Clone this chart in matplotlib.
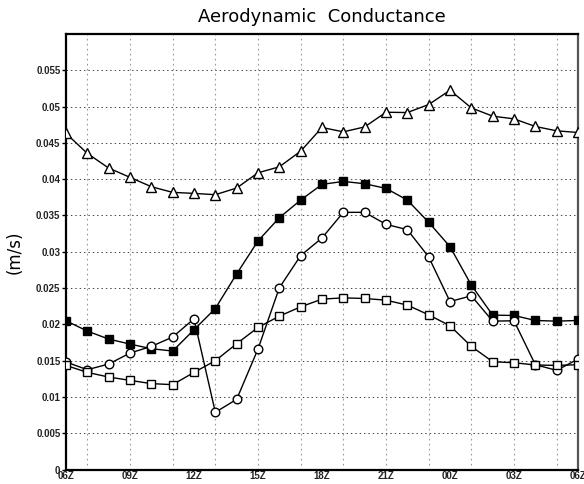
import matplotlib
matplotlib.use("Agg")
import matplotlib.pyplot as plt
from matplotlib.ticker import FuncFormatter

# hourly values, 06Z to 06Z next day
hours = list(range(25))
tick_labels = ["06Z", "09Z", "12Z", "15Z", "18Z", "21Z", "00Z", "03Z", "06Z"]

tri = [0.0463, 0.04355, 0.04153, 0.04025, 0.03896, 0.03818, 0.03804, 0.03786,
       0.03878, 0.04088, 0.0417, 0.04386, 0.04712, 0.04652, 0.0472, 0.04922,
       0.04918, 0.05028, 0.05225, 0.04982, 0.04868, 0.04831, 0.04726, 0.04666,
       0.04643]
sq_filled = [0.02049, 0.01907, 0.01797, 0.01728, 0.01664, 0.01632, 0.01925,
             0.02218, 0.02695, 0.03149, 0.03469, 0.03712, 0.03928, 0.03969,
             0.03937, 0.03873, 0.03712, 0.03406, 0.0307, 0.0254, 0.02127,
             0.02122, 0.02053, 0.02044, 0.02053]
circ = [0.01481, 0.01375, 0.01453, 0.01604, 0.01696, 0.01825, 0.02076, 0.00788,
        0.00967, 0.0166, 0.02503, 0.02947, 0.0319, 0.03543, 0.03543, 0.03378,
        0.03304, 0.02929, 0.02314, 0.02393, 0.02044, 0.02049, 0.01444, 0.01366,
        0.01522]
sq_open = [0.01434, 0.01338, 0.01274, 0.01228, 0.01183, 0.01169, 0.01338,
           0.01499, 0.01733, 0.01957, 0.02113, 0.02241, 0.02347, 0.02365,
           0.02356, 0.02333, 0.02265, 0.02131, 0.0198, 0.01696, 0.01485,
           0.01471, 0.0144, 0.01434, 0.01444]

fig = plt.figure(figsize=(5.84, 4.84), dpi=100)
ax = fig.add_axes([66 / 584, 14.5 / 484, 512 / 584, 435.5 / 484])

lw = 1.0
ax.plot(hours, tri, color="black", lw=lw, marker="^", ms=7, mfc="white",
        mec="black", mew=1.0, zorder=3)
ax.plot(hours, sq_filled, color="black", lw=lw, marker="s", ms=5.6, mfc="black",
        mec="black", mew=1.0, zorder=3)
ax.plot(hours, circ, color="black", lw=lw, marker="o", ms=6.2, mfc="white",
        mec="black", mew=1.0, zorder=3)
ax.plot(hours, sq_open, color="black", lw=lw, marker="s", ms=5.8, mfc="white",
        mec="black", mew=1.0, zorder=3)

ax.set_xlim(0, 24)
ax.set_ylim(0, 0.06)

# grid: horizontal every 0.005, vertical at odd hours
for yv in [i * 0.005 for i in range(1, 12)]:
    ax.axhline(yv, color="#444444", lw=0.7, ls=(0, (1.5, 3)), zorder=1)
for xv in range(1, 24, 2):
    ax.axvline(xv, color="#999999", lw=0.8, ls=(0, (1.5, 3)), zorder=1)

ax.set_yticks([i * 0.005 for i in range(12)])
ax.yaxis.set_major_formatter(FuncFormatter(lambda v, p: "%g" % round(v, 3)))
ax.set_xticks(range(0, 25, 3))
ax.set_xticklabels(tick_labels)
ax.tick_params(axis="y", direction="out", length=3, width=1, pad=1,
               labelsize=7)
ax.tick_params(axis="x", length=0, pad=1, labelsize=7)
for lab in ax.get_xticklabels() + ax.get_yticklabels():
    lab.set_fontfamily("Liberation Sans")
    lab.set_fontweight("bold")
    lab.set_color("#222222")

for side in ["left", "top", "bottom"]:
    ax.spines[side].set_linewidth(1.6)
ax.spines["right"].set_linewidth(1.6)
ax.spines["right"].set_color("#555555")

ax.set_ylabel("(m/s)", fontsize=12, family="DejaVu Sans", color="black")
ax.yaxis.set_label_coords(-0.083, 0.5)
ax.set_title("Aerodynamic  Conductance", fontsize=13, family="DejaVu Sans",
             color="black", pad=9)

fig.savefig("out.png", dpi=100)
